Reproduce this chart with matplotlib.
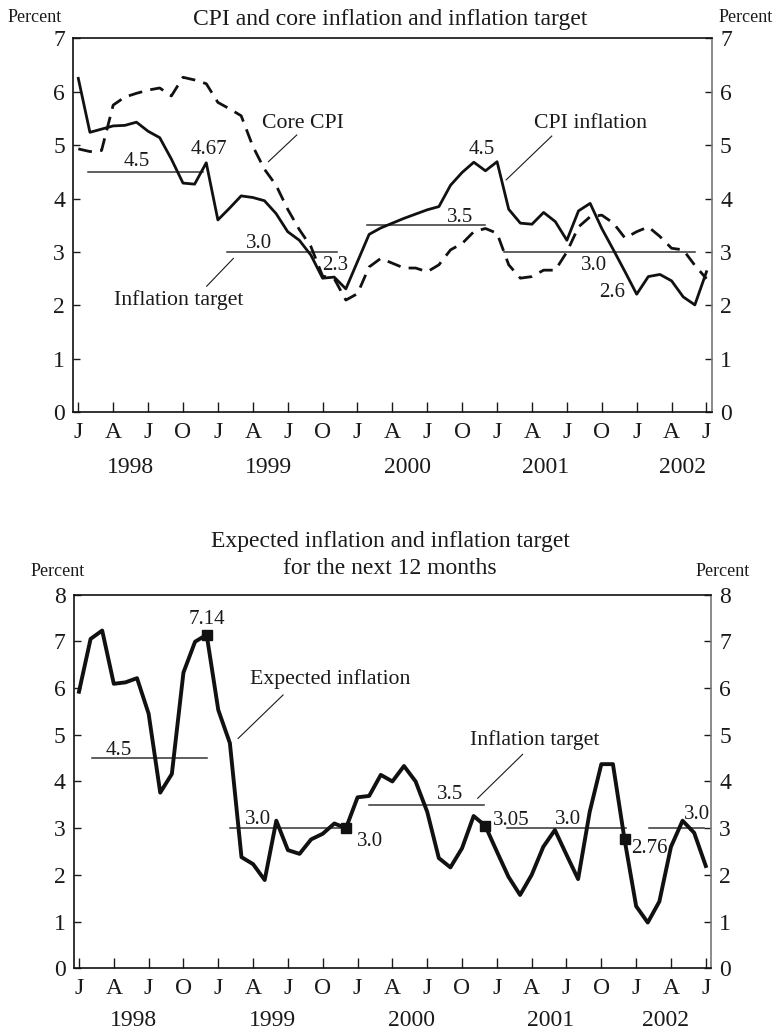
import matplotlib
matplotlib.use("Agg")
import matplotlib.pyplot as plt
import numpy as np

plt.rcParams['font.family'] = ['Liberation Serif', 'DejaVu Serif']

# monthly data, Jan 1998 .. Jul 2002 (month index 0..54)
cpi = [6.25, 5.24, 5.30, 5.36, 5.37, 5.43, 5.26, 5.14, 4.74, 4.29, 4.27, 4.67,
       3.60, 3.82, 4.05, 4.02, 3.96, 3.72, 3.38, 3.22, 2.94, 2.51, 2.53, 2.31,
       2.82, 3.33, 3.45, 3.54, 3.63, 3.71, 3.79, 3.85, 4.25, 4.49, 4.68, 4.52,
       4.69, 3.80, 3.54, 3.52, 3.74, 3.57, 3.22, 3.77, 3.91, 3.44, 3.04, 2.63,
       2.21, 2.54, 2.58, 2.46, 2.16, 2.01, 2.63]
core_cpi = [4.93, 4.88, 4.90, 5.75, 5.90, 5.97, 6.03, 6.07, 5.92, 6.27, 6.22, 6.15,
            5.80, 5.68, 5.55, 4.98, 4.55, 4.25, 3.80, 3.42, 3.10, 2.55, 2.50, 2.10,
            2.22, 2.72, 2.88, 2.79, 2.70, 2.70, 2.63, 2.76, 3.04, 3.16, 3.38, 3.44,
            3.35, 2.76, 2.51, 2.54, 2.66, 2.66, 3.00, 3.47, 3.66, 3.69, 3.54, 3.26,
            3.38, 3.47, 3.29, 3.07, 3.04, 2.75, 2.50]
expected = [5.92, 7.05, 7.23, 6.09, 6.12, 6.21, 5.45, 3.76, 4.16, 6.33, 6.99, 7.14,
            5.53, 4.82, 2.38, 2.23, 1.89, 3.16, 2.53, 2.45, 2.76, 2.88, 3.10, 3.00,
            3.66, 3.69, 4.14, 4.00, 4.33, 4.00, 3.35, 2.36, 2.16, 2.57, 3.26, 3.05,
            2.50, 1.96, 1.57, 2.00, 2.60, 2.96, 2.43, 1.91, 3.35, 4.37, 4.37, 2.76,
            1.33, 0.98, 1.43, 2.60, 3.16, 2.90, 2.19]
months = np.arange(len(cpi))

# inflation target segments: start month, end month, level
top_target_start = [0.85, 12.75, 24.8, 36.6]
top_target_end = [10.75, 22.2, 35.0, 53.0]
top_target_level = [4.5, 3.0, 3.5, 3.0]
bot_target_start = [1.1, 13.0, 25.0, 36.85, 49.1]
bot_target_end = [11.0, 22.8, 34.85, 47.1, 53.85]
bot_target_level = [4.5, 3.0, 3.5, 3.0, 3.0]

marked_months = [11, 23, 35, 47]

tick_pos = np.arange(0, 55, 3)
tick_labels = ['J', 'A', 'J', 'O'] * 4 + ['J', 'A', 'J']
years = ['1998', '1999', '2000', '2001', '2002']

fig = plt.figure(figsize=(7.78, 10.32), dpi=100)
ax1 = fig.add_axes([0.0942, 0.6005, 0.8206, 0.3624])
ax2 = fig.add_axes([0.0951, 0.0617, 0.8188, 0.3622])

txt = '#1a1a1a'
tgt = '#333333'
fs_tick = 17
fs_val = 15
fs_ann = 15.7


def style_axis(ax, ymax):
    ax.set_xlim(-0.43, 54.45)
    ax.set_ylim(0, ymax)
    ax.set_xticks(tick_pos)
    ax.set_xticklabels(tick_labels)
    ax.set_yticks(range(0, ymax + 1))
    ax.tick_params(axis='x', direction='in', length=7, width=1, pad=7,
                   labelsize=fs_tick, colors=txt, top=False)
    ax.tick_params(axis='y', direction='in', length=5, width=1, pad=6,
                   labelsize=fs_tick, colors=txt, left=True, right=True,
                   labelleft=True, labelright=True)
    for sp in ['left', 'top', 'bottom']:
        ax.spines[sp].set_color('#111111')
        ax.spines[sp].set_linewidth(1.2)
    ax.spines['right'].set_color('#777777')
    ax.spines['right'].set_linewidth(1.2)


style_axis(ax1, 7)
style_axis(ax2, 8)

# ---- top panel ----
for s, e, lv in zip(top_target_start, top_target_end, top_target_level):
    ax1.plot([s, e], [lv, lv], color=tgt, lw=1.1)
ax1.plot(months, core_cpi, color='#111111', lw=2.0, ls=(0, (5, 3)))
ax1.plot(months, cpi, color='#111111', lw=2.0)

for x, y, s in [(5.0, 4.69, '4.5'), (15.5, 3.16, '3.0'), (32.8, 3.65, '3.5'),
                (44.3, 2.74, '3.0'), (11.26, 4.92, '4.67'), (22.1, 2.74, '2.3'),
                (34.7, 4.91, '4.5'), (45.9, 2.25, '2.6')]:
    ax1.text(x, y, s, ha='center', va='center', fontsize=fs_val, color=txt)

ax1.text(19.35, 5.41, 'Core CPI', ha='center', va='center', fontsize=fs_ann, color=txt)
ax1.plot([18.78, 16.34], [5.19, 4.69], color=txt, lw=0.8)
ax1.text(8.6, 2.11, 'Inflation target', ha='center', va='center', fontsize=fs_ann, color=txt)
ax1.plot([13.33, 11.04], [2.88, 2.36], color=txt, lw=0.8)
ax1.text(44.0, 5.41, 'CPI inflation', ha='center', va='center', fontsize=fs_ann, color=txt)
ax1.plot([40.7, 36.78], [5.17, 4.35], color=txt, lw=0.8)

for x, yr in zip([4.45, 16.31, 28.26, 40.13, 51.9], years):
    ax1.text(x, -1.03, yr, ha='center', va='center', fontsize=fs_tick, color=txt, clip_on=False)

# ---- bottom panel ----
for s, e, lv in zip(bot_target_start, bot_target_end, bot_target_level):
    ax2.plot([s, e], [lv, lv], color=tgt, lw=1.1)
ax2.plot(months, expected, color='#111111', lw=2.8)
ax2.plot(marked_months, [expected[i] for i in marked_months], ls='none',
         marker='s', ms=7, color='#111111')

for x, y, s, ha in [(3.4, 4.67, '4.5', 'center'), (15.38, 3.18, '3.0', 'center'),
                    (31.98, 3.73, '3.5', 'center'), (42.15, 3.18, '3.0', 'center'),
                    (53.27, 3.30, '3.0', 'center'), (11.0, 7.46, '7.14', 'center'),
                    (25.04, 2.71, '3.0', 'center'), (35.64, 3.16, '3.05', 'left'),
                    (47.54, 2.57, '2.76', 'left')]:
    ax2.text(x, y, s, ha=ha, va='center', fontsize=fs_val, color=txt)

ax2.text(21.68, 6.19, 'Expected inflation', ha='center', va='center', fontsize=fs_ann, color=txt)
ax2.plot([17.58, 13.71], [5.85, 4.92], color=txt, lw=0.8)
ax2.text(39.23, 4.89, 'Inflation target', ha='center', va='center', fontsize=fs_ann, color=txt)
ax2.plot([38.22, 34.35], [4.58, 3.64], color=txt, lw=0.8)

for x, yr in zip([4.69, 16.7, 28.62, 40.66, 50.55], years):
    ax2.text(x, -1.12, yr, ha='center', va='center', fontsize=fs_tick, color=txt, clip_on=False)

# titles and unit labels
fig.text(390 / 778, 1 - 20 / 1032, 'CPI and core inflation and inflation target',
         ha='center', va='center', fontsize=17, color=txt)
fig.text(390 / 778, 1 - 541 / 1032, 'Expected inflation and inflation target',
         ha='center', va='center', fontsize=17, color=txt)
fig.text(390 / 778, 1 - 568 / 1032, 'for the next 12 months',
         ha='center', va='center', fontsize=17, color=txt)
fig.text(35 / 778, 1 - 17 / 1032, 'Percent', ha='center', va='center', fontsize=13, color=txt)
fig.text(746 / 778, 1 - 17 / 1032, 'Percent', ha='center', va='center', fontsize=13, color=txt)
fig.text(58 / 778, 1 - 572 / 1032, 'Percent', ha='center', va='center', fontsize=13, color=txt)
fig.text(723 / 778, 1 - 572 / 1032, 'Percent', ha='center', va='center', fontsize=13, color=txt)

fig.savefig('out.png', dpi=100)
